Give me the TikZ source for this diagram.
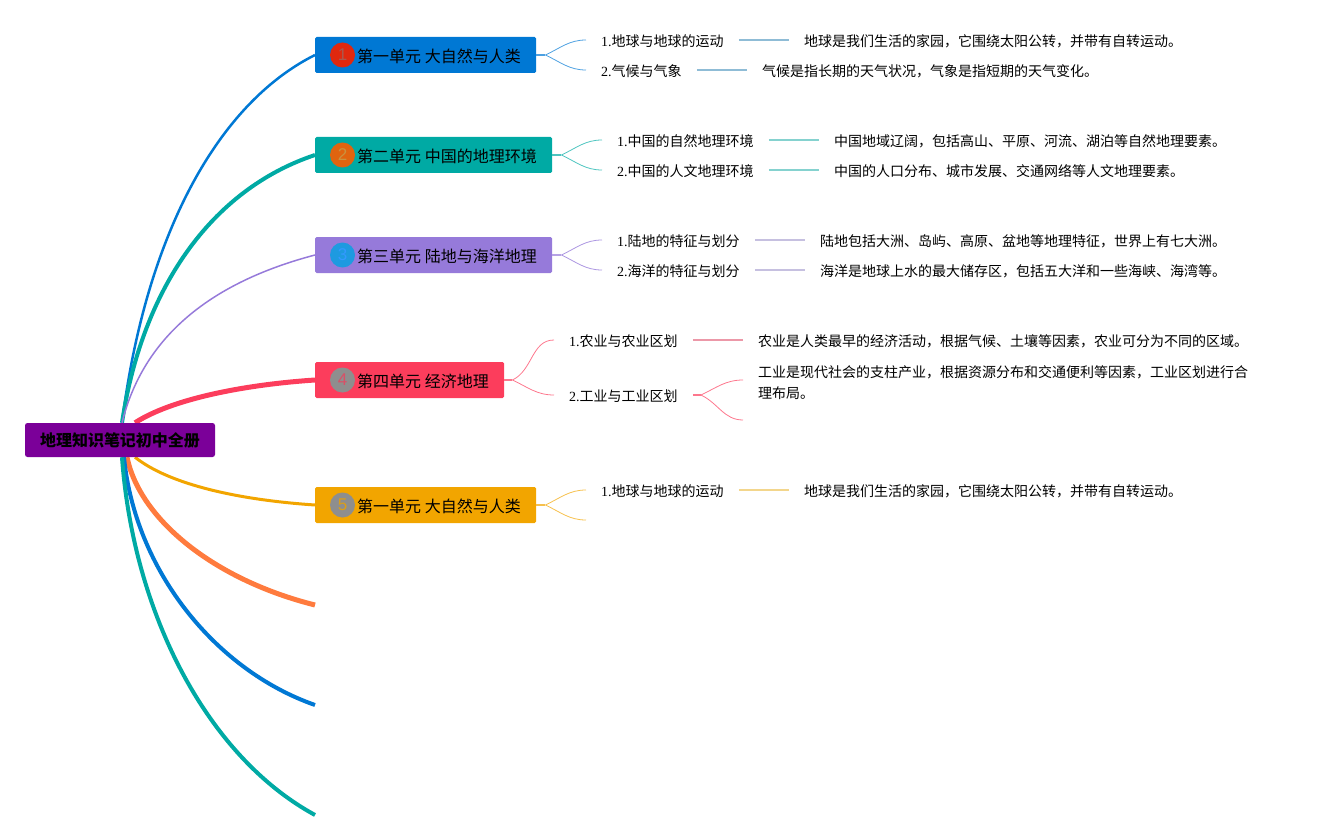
\documentclass[tikz,border=0pt]{standalone}
\usepackage{fontspec}
\setmainfont{Liberation Serif}
\newfontfamily\cjk{Noto Sans CJK SC}
\newfontfamily\badgefont{Liberation Sans}
\usetikzlibrary{positioning,backgrounds}
\definecolor{rootpurple}{HTML}{7B0099}
\definecolor{unitblue}{HTML}{0078D4}
\definecolor{unitteal}{HTML}{00AAA4}
\definecolor{unitviolet}{HTML}{967ADA}
\definecolor{unitred}{HTML}{FC3D5C}
\definecolor{unitamber}{HTML}{F2A500}
\definecolor{unitorange}{HTML}{FF7B3E}
\definecolor{twigblue}{HTML}{8FBCD6}
\definecolor{twigteal}{HTML}{85D2CF}
\definecolor{twigviolet}{HTML}{C6C0E0}
\definecolor{twigred}{HTML}{EC98A8}
\definecolor{twigamber}{HTML}{F3D68C}
\definecolor{badgered}{HTML}{E0280F}
\definecolor{badgeorange}{HTML}{E0640F}
\definecolor{badgesky}{HTML}{1E9AE0}
\definecolor{badgegray}{HTML}{8E8E8E}
\definecolor{digitorange}{HTML}{C9923F}
\tikzset{
    rootbox/.style={fill=rootpurple, rounded corners=2.5pt, minimum width=190pt, minimum height=34pt, inner sep=0pt, text height=14pt, text depth=1pt, font=\fontsize{16}{16}\cjk\bfseries},
    unitbox/.style={rounded corners=1.5pt, minimum height=36pt, inner sep=0pt, anchor=west},
    badge/.style={circle, minimum size=25pt, inner sep=0pt, font=\fontsize{17}{17}\badgefont},
    unitlabel/.style={anchor=west, inner sep=0pt, font=\fontsize{16}{16}\cjk},
    topic/.style={anchor=west, inner xsep=15pt, inner ysep=0pt, text height=13pt, text depth=0.4pt, font=\fontsize{14}{14}\selectfont},
    leaf/.style={anchor=west, inner sep=0pt, text height=13pt, text depth=0.4pt, font=\fontsize{14}{21}\cjk, align=left},
    forkup/.style={line width=0.8pt, out=25, in=180},
    forkdown/.style={line width=0.8pt, out=-25, in=180},
    stem/.style={line width=1.8pt},
    twig/.style={line width=1.7pt}
}
\newcommand{\topictext}[2]{#1{\cjk #2}}
\begin{document}
\begin{tikzpicture}[x=1pt, y=-1pt]
    \useasboundingbox (0,0) rectangle (1318,840);

    % --- Root ---
    \node[rootbox] (root) at (120,440) {地理知识笔记初中全册};

    % --- Unit boxes ---
    \node[unitbox, fill=unitblue, minimum width=221pt] (unitA) at (315,55) {};
    \node[badge, fill=badgered, text=badgered!45!gray] (badgeA) at (342.5,55) {1};
    \node[unitlabel] (labelA) at (357,56.5) {第一单元 大自然与人类};

    \node[unitbox, fill=unitteal, minimum width=237pt] (unitB) at (315,155) {};
    \node[badge, fill=badgeorange, text=digitorange] (badgeB) at (342.5,155) {2};
    \node[unitlabel] (labelB) at (357,156.5) {第二单元 中国的地理环境};

    \node[unitbox, fill=unitviolet, minimum width=237pt] (unitC) at (315,255) {};
    \node[badge, fill=badgesky, text=blue!50!cyan!80] (badgeC) at (342.5,255) {3};
    \node[unitlabel] (labelC) at (357,256.5) {第三单元 陆地与海洋地理};

    \node[unitbox, fill=unitred, minimum width=189pt] (unitD) at (315,380) {};
    \node[badge, fill=badgegray, text=unitred!70!gray] (badgeD) at (342.5,380) {4};
    \node[unitlabel] (labelD) at (357,381.5) {第四单元 经济地理};

    \node[unitbox, fill=unitamber, minimum width=221pt] (unitE) at (315,505) {};
    \node[badge, fill=badgegray, text=unitamber!80!gray] (badgeE) at (342.5,505) {5};
    \node[unitlabel] (labelE) at (357,506.5) {第一单元 大自然与人类};

    % Free ends of the three empty branches
    \coordinate (endF) at (315,605);
    \coordinate (endG) at (315,705);
    \coordinate (endH) at (315,815);

    % --- Main branches ---
    \begin{scope}[on background layer]
    \draw[unitblue, line width=2.5pt] ([xshift=2pt]root.north) .. controls (145,240) and (215,105) .. (unitA.west);
    \draw[unitteal, line width=4pt] ([xshift=2pt]root.north) .. controls (142,290) and (210,190) .. (unitB.west);
    \draw[unitviolet, line width=1.5pt] ([xshift=2pt]root.north) .. controls (145,330) and (220,280) .. (unitC.west);
    \draw[unitred, line width=5pt] ([xshift=15pt]root.north) .. controls (170,400) and (240,385) .. (unitD.west);
    \draw[unitamber, line width=3pt] ([xshift=15pt]root.south) .. controls (170,485) and (240,500) .. (unitE.west);
    \draw[unitorange, line width=5pt] ([xshift=7pt]root.south) .. controls (140,520) and (215,580) .. (endF);
    \draw[unitblue, line width=4pt] ([xshift=4pt]root.south) .. controls (135,570) and (215,670) .. (endG);
    \draw[unitteal, line width=4pt] ([xshift=2pt]root.south) .. controls (133,610) and (205,755) .. (endH);
    \end{scope}

    % --- Unit 1 ---
    \node[topic] (topicAa) at (586,40) {\topictext{1.}{地球与地球的运动}};
    \node[topic] (topicAb) at (586,70) {\topictext{2.}{气候与气象}};
    \node[leaf, right=15pt of topicAa.east, xshift=50pt] (leafAa) {地球是我们生活的家园，它围绕太阳公转，并带有自转运动。};
    \node[leaf, right=15pt of topicAb.east, xshift=50pt] (leafAb) {气候是指长期的天气状况，气象是指短期的天气变化。};
    \draw[stem, unitblue!70] (unitA.east) -- ++(9,0) coordinate (forkA);
    \draw[unitblue!70] (forkA) edge[forkup] (topicAa.west) edge[forkdown] (topicAb.west);
    \draw[twig, twigblue] (topicAa.east) -- ++(50,0);
    \draw[twig, twigblue] (topicAb.east) -- ++(50,0);

    % --- Unit 2 ---
    \node[topic] (topicBa) at (602,140) {\topictext{1.}{中国的自然地理环境}};
    \node[topic] (topicBb) at (602,170) {\topictext{2.}{中国的人文地理环境}};
    \node[leaf, right=15pt of topicBa.east, xshift=50pt] (leafBa) {中国地域辽阔，包括高山、平原、河流、湖泊等自然地理要素。};
    \node[leaf, right=15pt of topicBb.east, xshift=50pt] (leafBb) {中国的人口分布、城市发展、交通网络等人文地理要素。};
    \draw[stem, unitteal!70] (unitB.east) -- ++(9,0) coordinate (forkB);
    \draw[unitteal!70] (forkB) edge[forkup] (topicBa.west) edge[forkdown] (topicBb.west);
    \draw[twig, twigteal] (topicBa.east) -- ++(50,0);
    \draw[twig, twigteal] (topicBb.east) -- ++(50,0);

    % --- Unit 3 ---
    \node[topic] (topicCa) at (602,240) {\topictext{1.}{陆地的特征与划分}};
    \node[topic] (topicCb) at (602,270) {\topictext{2.}{海洋的特征与划分}};
    \node[leaf, right=15pt of topicCa.east, xshift=50pt] (leafCa) {陆地包括大洲、岛屿、高原、盆地等地理特征，世界上有七大洲。};
    \node[leaf, right=15pt of topicCb.east, xshift=50pt] (leafCb) {海洋是地球上水的最大储存区，包括五大洋和一些海峡、海湾等。};
    \draw[stem, unitviolet!70] (unitC.east) -- ++(9,0) coordinate (forkC);
    \draw[unitviolet!80] (forkC) edge[forkup] (topicCa.west) edge[forkdown] (topicCb.west);
    \draw[twig, twigviolet] (topicCa.east) -- ++(50,0);
    \draw[twig, twigviolet] (topicCb.east) -- ++(50,0);

    % --- Unit 4 ---
    \node[topic] (topicDa) at (554,340) {\topictext{1.}{农业与农业区划}};
    \node[topic] (topicDb) at (554,395) {\topictext{2.}{工业与工业区划}};
    \node[leaf, right=15pt of topicDa.east, xshift=50pt] (leafDa) {农业是人类最早的经济活动，根据气候、土壤等因素，农业可分为不同的区域。};
    \node[leaf] (leafDb) at (758,392.5) {工业是现代社会的支柱产业，根据资源分布和交通便利等因素，工业区划进行合\\理布局。};
    \coordinate (endDa) at (743,380);
    \coordinate (endDb) at (743,420);
    \draw[stem, unitred!70] (unitD.east) -- ++(8,0) coordinate (forkD);
    \draw[unitred!70] (forkD) edge[forkup] (topicDa.west) edge[forkdown] (topicDb.west);
    \draw[twig, twigred] (topicDa.east) -- ++(50,0);
    \draw[stem, unitred!70] (topicDb.east) -- ++(8,0) coordinate (forkDb);
    \draw[unitred!70] (forkDb) edge[forkup] (endDa) edge[forkdown] (endDb);

    % --- Unit 5 ---
    \node[topic] (topicEa) at (586,490) {\topictext{1.}{地球与地球的运动}};
    \node[leaf, right=15pt of topicEa.east, xshift=50pt] (leafEa) {地球是我们生活的家园，它围绕太阳公转，并带有自转运动。};
    \coordinate (endEb) at (586,520);
    \draw[stem, unitamber!70] (unitE.east) -- ++(9,0) coordinate (forkE);
    \draw[unitamber!70] (forkE) edge[forkup] (topicEa.west) edge[forkdown] (endEb);
    \draw[twig, twigamber] (topicEa.east) -- ++(50,0);

\end{tikzpicture}
\end{document}
